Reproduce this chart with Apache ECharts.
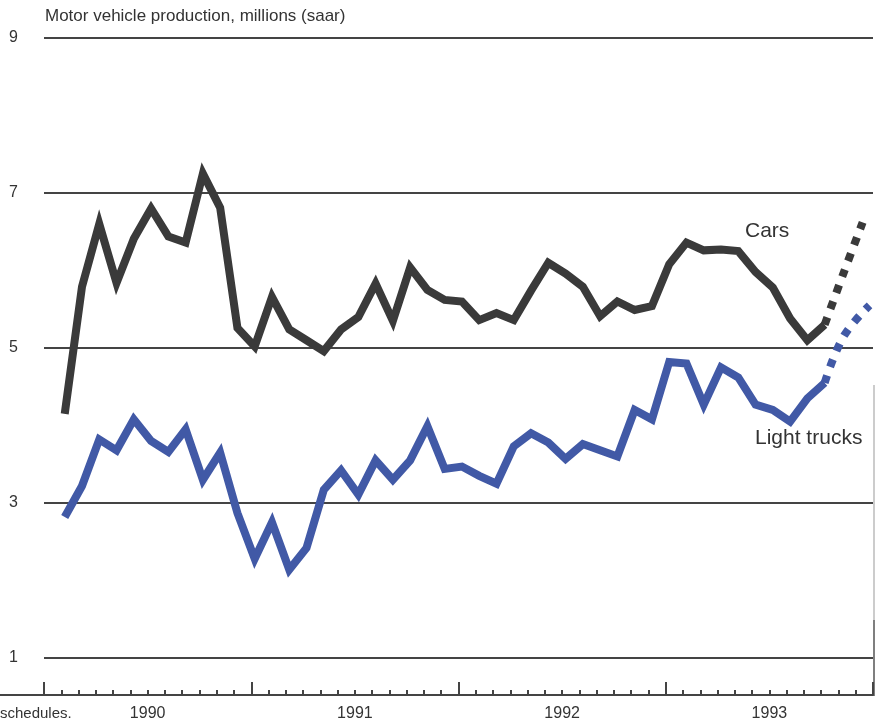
<!DOCTYPE html>
<html>
<head>
<meta charset="utf-8">
<script src="https://cdn.jsdelivr.net/npm/echarts@6/dist/echarts.min.js"></script>
<style>
html,body{margin:0;padding:0;background:#fff;}
#c{width:876px;height:723px;}
</style>
</head>
<body>
<div id="c"></div>
<script>
// Monthly data, Jan 1990 onward (millions, saar)
var cars = [4.15, 5.79, 6.6, 5.84, 6.41, 6.8, 6.44, 6.36, 7.25, 6.81, 5.26, 5.02,
            5.66, 5.24, 5.1, 4.96, 5.24, 5.4, 5.83, 5.35, 6.04, 5.75, 5.62, 5.6,
            5.36, 5.45, 5.36, 5.74, 6.1, 5.96, 5.79, 5.41, 5.6, 5.49, 5.54, 6.08,
            6.36, 6.26, 6.27, 6.25, 5.98, 5.78, 5.38, 5.1, 5.3];
var trucks = [2.82, 3.22, 3.82, 3.68, 4.08, 3.8, 3.66, 3.95, 3.3, 3.65, 2.87, 2.28,
              2.75, 2.14, 2.42, 3.17, 3.42, 3.11, 3.55, 3.3, 3.55, 3.99, 3.44, 3.47,
              3.35, 3.25, 3.73, 3.9, 3.78, 3.57, 3.76, 3.68, 3.6, 4.2, 4.08, 4.82,
              4.8, 4.27, 4.75, 4.62, 4.27, 4.2, 4.05, 4.35, 4.55];
// Projections (dotted): month position, value
var carsProjMonths = [45.2, 46.3, 47.4];
var carsProj = [5.3, 5.97, 6.62];
var trucksProjMonths = [45.2, 46.3, 47.8];
var trucksProj = [4.55, 5.15, 5.55];
var yearLabels = ['1990', '1991', '1992', '1993'];
var yTicks = [1, 3, 5, 7, 9];
var monthOffset = 1.2; // plotting position of first observation on month axis

function pairs(xs, ys) { return ys.map(function (v, i) { return [xs[i], v]; }); }
function monthly(vals) { return vals.map(function (v, i) { return [i + monthOffset, v]; }); }

var chart = echarts.init(document.getElementById('c'), null, {renderer: 'canvas'});
var font = 'Liberation Sans, Arial, Helvetica, sans-serif';
var axisCommon = {type: 'value', min: 0, max: 48, position: 'bottom', offset: 37,
  splitLine: {show: false}};
chart.setOption({
  animation: false,
  backgroundColor: '#ffffff',
  grid: {left: 44, right: 2, top: 38, bottom: 65, containLabel: false},
  xAxis: [
    Object.assign({}, axisCommon, {interval: 1,
      axisLine: {show: true, lineStyle: {color: '#444', width: 2}},
      axisTick: {show: true, inside: true, length: 5, lineStyle: {color: '#444', width: 2}},
      axisLabel: {show: false}}),
    Object.assign({}, axisCommon, {interval: 12,
      axisLine: {show: false},
      axisTick: {show: true, inside: true, length: 13, lineStyle: {color: '#444', width: 2}},
      axisLabel: {show: false}}),
    Object.assign({}, axisCommon, {interval: 6,
      axisLine: {show: false}, axisTick: {show: false},
      axisLabel: {show: true, margin: 11, fontSize: 16, color: '#333', fontFamily: font,
        formatter: function (v) { var k = Math.round(v); if (k % 12 === 6) return yearLabels[(k - 6) / 12]; return ''; }}})
  ],
  yAxis: {type: 'value', min: yTicks[0], max: yTicks[yTicks.length - 1], interval: 2,
    axisLine: {show: false}, axisTick: {show: false},
    splitLine: {show: true, lineStyle: {color: '#444', width: 1.8}},
    axisLabel: {show: true, fontSize: 16, color: '#333', fontFamily: font, margin: 26,
      formatter: function (v) { return yTicks.indexOf(v) >= 0 ? String(v) : ''; }}},
  series: [
    {type: 'line', name: 'Cars', xAxisIndex: 0, data: monthly(cars), symbol: 'none',
      lineStyle: {color: '#3a3a3a', width: 8, cap: 'butt', join: 'miter'}},
    {type: 'line', name: 'Light trucks', xAxisIndex: 0, data: monthly(trucks), symbol: 'none',
      lineStyle: {color: '#4159a6', width: 8, cap: 'butt', join: 'miter'}},
    {type: 'line', name: 'Cars proj', xAxisIndex: 0, data: pairs(carsProjMonths, carsProj), symbol: 'none', smooth: 0.3,
      lineStyle: {color: '#3a3a3a', width: 8, type: [8, 9], cap: 'butt'}},
    {type: 'line', name: 'Trucks proj', xAxisIndex: 0, data: pairs(trucksProjMonths, trucksProj), symbol: 'none', smooth: 0.4,
      lineStyle: {color: '#4159a6', width: 8, type: [8, 9], cap: 'butt'}}
  ],
  graphic: [
    {type: 'text', left: 45, top: 8, style: {text: 'Motor vehicle production, millions (saar)', font: '17px ' + font, fill: '#333'}},
    {type: 'text', left: 745, top: 221, style: {text: 'Cars', font: '21px ' + font, fill: '#333'}},
    {type: 'text', left: 755, top: 428, style: {text: 'Light trucks', font: '21px ' + font, fill: '#333'}},
    {type: 'text', left: 0, top: 706, style: {text: 'schedules.', font: '15px ' + font, fill: '#333'}},
    {type: 'line', shape: {x1: 0, y1: 695, x2: 45, y2: 695}, style: {stroke: '#444', lineWidth: 2}},
    {type: 'line', shape: {x1: 874, y1: 385, x2: 874, y2: 620}, style: {stroke: '#bbb', lineWidth: 1.5}},
    {type: 'line', shape: {x1: 874, y1: 620, x2: 874, y2: 696}, style: {stroke: '#555', lineWidth: 1.5}}
  ]
});
</script>
</body>
</html>
